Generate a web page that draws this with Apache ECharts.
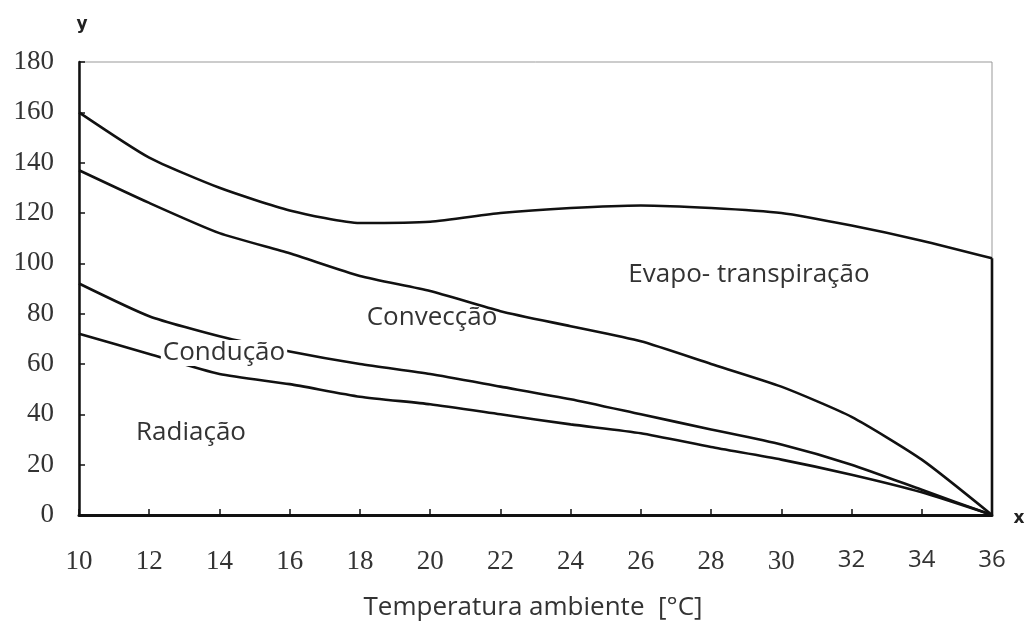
<!DOCTYPE html>
<html><head><meta charset="utf-8">
<script src="https://cdn.jsdelivr.net/npm/echarts@6/dist/echarts.min.js"></script>
<style>html,body{margin:0;padding:0;background:#fff}#c{width:1029px;height:626px}</style>
</head><body><div id="c"></div>
<script>
const temps = [10,12,14,16,18,20,22,24,26,28,30,32,34,36];
const evapo = [160,142,130,121,116,116.5,120,122,123,122,120,115,109,102];
const convec = [137,124,112,104,95,89,81,75,69,60,51,39,22,0];
const conduc = [92,79,71,65,60,56,51,46,40,34,28,20,10,0];
const radiac = [72,64,56,52,47,44,40,36,32.5,27,22,16,9,0];
const regionLabels = ['Radiação','Condução','Convecção','Evapo- transpiração'];
const axisTitle = 'Temperatura ambiente  [°C]';
const yTicks = [0,20,40,60,80,100,120,140,160,180];

function pts(v){ return temps.map((t,i)=>[t,v[i]]); }
const lastT = temps[temps.length-1];
const dropPts = [[lastT, evapo[evapo.length-1]], [lastT, 0]];

const chart = echarts.init(document.getElementById('c'));
const lineStyle = {color:'#111', width:2.6};
function s(data, sm){ return {type:'line', data, symbol:'none', smooth:sm, lineStyle, z:3, animation:false}; }

const lblFont = '26px Open Sans, sans-serif';
function lbl(text, x, y, bg){
  const st = {text, font:lblFont, fill:'#333', align:'center', verticalAlign:'middle'};
  if (bg) { st.backgroundColor = '#fff'; st.padding = [0,2]; }
  return {type:'text', x, y, z:10, style:st};
}

chart.setOption({
  backgroundColor:'#fff',
  animation:false,
  grid:{left:79, right:37, top:62, bottom:111, show:true, borderColor:'#999', borderWidth:1},
  xAxis:{type:'value', min:10, max:36, interval:2,
    axisLine:{show:true, onZero:false, lineStyle:{color:'#111', width:3}},
    axisTick:{show:true, inside:true, length:6, lineStyle:{color:'#111', width:1.5}},
    axisLabel:{color:'#333', fontFamily:'Liberation Serif, serif', fontSize:27, margin:33,
      formatter:v=>v>=32?'{s|'+v+'}':String(v),
      rich:{s:{fontFamily:'Open Sans, sans-serif', fontSize:24, color:'#333'}}},
    splitLine:{show:false}},
  yAxis:{type:'value', min:0, max:180, interval:20,
    axisLine:{show:true, onZero:false, lineStyle:{color:'#111', width:2.5}},
    axisTick:{show:true, inside:true, length:6, lineStyle:{color:'#111', width:1.5}},
    axisLabel:{color:'#333', fontFamily:'Liberation Serif, serif', fontSize:27, margin:25,
      formatter:v=>yTicks.includes(v)?String(v):''},
    splitLine:{show:false}},
  series:[s(pts(evapo),0.2), s(dropPts,false), s(pts(convec),0.2), s(pts(conduc),0.2), s(pts(radiac),0.2)],
  graphic:[
    {type:'text', x:82, y:25, style:{text:'y', font:'bold 17px DejaVu Sans, sans-serif', fill:'#222', align:'center', verticalAlign:'middle'}},
    {type:'text', x:1019, y:519, style:{text:'x', font:'bold 17px DejaVu Sans, sans-serif', fill:'#222', align:'center', verticalAlign:'middle'}},
    {type:'text', x:533, y:608, style:{text:axisTitle, font:lblFont, fill:'#333', align:'center', verticalAlign:'middle'}},
    lbl(regionLabels[0], 191, 433, false),
    lbl(regionLabels[1], 224, 353, true),
    lbl(regionLabels[2], 432, 318, false),
    lbl(regionLabels[3], 749, 275, false)
  ]
});
</script></body></html>
